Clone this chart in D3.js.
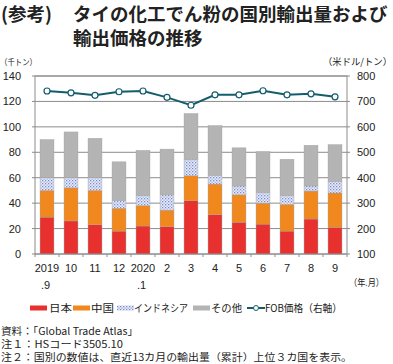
<!DOCTYPE html>
<html>
<head>
<meta charset="utf-8">
<script src="https://cdn.jsdelivr.net/npm/d3@7"></script>
<style>
  body { margin: 0; background: #fff; }
  svg { display: block; font-family: "Noto Sans CJK JP", "Noto Sans", sans-serif; }
  .num { font-family: "Liberation Sans", Arial, sans-serif; }
</style>
</head>
<body>
<div id="chart"></div>
<script>
const width = 393
const height = 364

/* data */
const months = ["2019\n.9", "10", "11", "12", "2020\n.1", "2", "3", "4", "5", "6", "7", "8", "9"]
const japan = [29, 26, 23, 18, 22, 21.5, 42, 31, 25, 23.5, 18, 27.5, 21]
const china = [21, 26, 27, 18, 16, 13, 19.5, 24, 21.5, 16.5, 21, 22, 27]
const indonesia = [10, 8, 10, 6, 8, 12, 13, 7, 7, 8.5, 7, 4, 9]
const others = [30, 36, 31, 30.5, 35.5, 36, 36, 39, 30, 32, 28.5, 32, 29]
const fob = [741, 734, 724, 738, 741, 716, 685, 726, 726, 742, 726, 730, 718]

const seriesKeys = ["japan", "china", "indonesia", "others"]
const seriesNames = ["日本", "中国", "インドネシア", "その他"]
const leftTicks = [0, 20, 40, 60, 80, 100, 120, 140]
const rightTicks = [100, 200, 300, 400, 500, 600, 700, 800]

const rows = months.map((m, i) => ({
  month: m, japan: japan[i], china: china[i], indonesia: indonesia[i], others: others[i], fob: fob[i]
}))

const margin = { top: 76, right: 46, bottom: 110, left: 35 }
const x0 = margin.left, x1 = width - margin.right
const y0 = height - margin.bottom, y1 = margin.top

const x = d3.scaleBand().domain(months).range([x0, x1]).paddingInner(0.42).paddingOuter(0.21)
const yL = d3.scaleLinear().domain([0, 140]).range([y0, y1])
const yR = d3.scaleLinear().domain([100, 800]).range([y0, y1])

const lineColor = "#135d6c"
const colors = { japan: "#e8302e", china: "#f1881d", indonesia: "url(#dots)", others: "#b4b4b4" }

const svg = d3.select("#chart").append("svg")
  .attr("width", width).attr("height", height)

/* dotted pattern for indonesia */
const defs = svg.append("defs")
const pat = defs.append("pattern")
  .attr("id", "dots").attr("patternUnits", "userSpaceOnUse")
  .attr("width", 3).attr("height", 3)
pat.append("rect").attr("width", 3).attr("height", 3).attr("fill", "#e9edf9")
pat.append("rect").attr("x", 0).attr("y", 0).attr("width", 1.3).attr("height", 1.3).attr("fill", "#7a8bcc")
pat.append("rect").attr("x", 1.5).attr("y", 1.5).attr("width", 1.3).attr("height", 1.3).attr("fill", "#9dabdc")

/* title */
svg.append("text").attr("x", 1).attr("y", 21)
  .attr("font-size", 18.5).attr("font-weight", "bold").attr("fill", "#222")
  .text("(参考)")
svg.append("text").attr("x", 73).attr("y", 21)
  .attr("font-size", 18.5).attr("font-weight", "bold").attr("fill", "#222")
  .text("タイの化工でん粉の国別輸出量および")
svg.append("text").attr("x", 73).attr("y", 45)
  .attr("font-size", 18.5).attr("font-weight", "bold").attr("fill", "#222")
  .text("輸出価格の推移")

/* units */
svg.append("text").attr("x", 0).attr("y", 65).attr("font-size", 8.5).attr("fill", "#222")
  .attr("textLength", 37).attr("lengthAdjust", "spacingAndGlyphs").text("（千トン）")
svg.append("text").attr("x", 323).attr("y", 65)
  .attr("font-size", 9.5).attr("fill", "#222")
  .attr("textLength", 69).attr("lengthAdjust", "spacingAndGlyphs").text("（米ドル/トン）")

/* gridlines */
svg.append("g").selectAll("line").data(leftTicks).join("line")
  .attr("x1", x0).attr("x2", x1)
  .attr("y1", d => yL(d)).attr("y2", d => yL(d))
  .attr("stroke", "#8c8c8c").attr("stroke-width", 1)

/* bars */
const stack = d3.stack().keys(seriesKeys)(rows)
svg.append("g").selectAll("g").data(stack).join("g")
  .attr("fill", d => colors[d.key])
  .selectAll("rect").data(d => d).join("rect")
  .attr("x", d => x(d.data.month))
  .attr("width", x.bandwidth())
  .attr("y", d => yL(d[1]))
  .attr("height", d => yL(d[0]) - yL(d[1]))
  .attr("stroke", "#a0a0a0").attr("stroke-width", 0.4)

/* plot frame */
svg.append("rect").attr("x", x0).attr("y", y1).attr("width", x1 - x0).attr("height", y0 - y1)
  .attr("fill", "none").attr("stroke", "#8c8c8c").attr("stroke-width", 1)

/* axis tick marks */
svg.append("g").selectAll("line").data(leftTicks).join("line")
  .attr("x1", x0 - 3).attr("x2", x0)
  .attr("y1", d => yL(d)).attr("y2", d => yL(d))
  .attr("stroke", "#8c8c8c")
svg.append("g").selectAll("line").data(rightTicks).join("line")
  .attr("x1", x1).attr("x2", x1 + 3)
  .attr("y1", d => yR(d)).attr("y2", d => yR(d))
  .attr("stroke", "#8c8c8c")

/* left axis */
svg.append("g").attr("class", "num").selectAll("text").data(leftTicks).join("text")
  .attr("x", 21).attr("y", d => yL(d) + 4)
  .attr("text-anchor", "end").attr("font-size", 11).attr("fill", "#222")
  .text(d => d)

/* right axis */
svg.append("g").attr("class", "num").selectAll("text").data(rightTicks).join("text")
  .attr("x", 357).attr("y", d => yR(d) + 4)
  .attr("font-size", 11).attr("fill", "#222")
  .text(d => d)

/* x ticks at band boundaries */
const bounds = d3.range(months.length + 1).map(i => x0 + i * (x1 - x0) / months.length)
svg.append("g").selectAll("line").data(bounds).join("line")
  .attr("x1", d => d).attr("x2", d => d)
  .attr("y1", y0).attr("y2", y0 + 3)
  .attr("stroke", "#8c8c8c")

const xl = svg.append("g").attr("class", "num").selectAll("text").data(months).join("text")
  .attr("text-anchor", "middle").attr("font-size", 11).attr("fill", "#222")
xl.each(function(d) {
  const parts = d.split("\n")
  const cx = x(d) + x.bandwidth() / 2
  parts.forEach((p, j) => {
    d3.select(this).append("tspan")
      .attr("x", j ? cx - 1.5 : cx).attr("y", y0 + 17.5 + j * 17).text(p)
  })
})
svg.append("text").attr("x", 349).attr("y", y0 + 32)
  .attr("font-size", 9.5).attr("fill", "#222")
  .attr("textLength", 35).attr("lengthAdjust", "spacingAndGlyphs").text("（年.月）")

/* FOB line */
const line = d3.line()
  .x((d, i) => x(months[i]) + x.bandwidth() / 2)
  .y(d => yR(d))
svg.append("path").datum(fob)
  .attr("d", line).attr("fill", "none")
  .attr("stroke", lineColor).attr("stroke-width", 2)
svg.append("g").selectAll("circle").data(fob).join("circle")
  .attr("cx", (d, i) => x(months[i]) + x.bandwidth() / 2)
  .attr("cy", d => yR(d))
  .attr("r", 3).attr("fill", "#fff")
  .attr("stroke", lineColor).attr("stroke-width", 1.2)

/* legend */
const leg = svg.append("g").attr("font-size", 10.5).attr("fill", "#222")
const legItems = [
  { name: seriesNames[0], fill: colors.japan, x: 30, tx: 49, w: 23 },
  { name: seriesNames[1], fill: colors.china, x: 73, tx: 91, w: 23 },
  { name: seriesNames[2], fill: colors.indonesia, x: 117, tx: 134, w: 54 },
  { name: seriesNames[3], fill: colors.others, x: 193, tx: 211, w: 31 }
]
const ly = 308
legItems.forEach(d => {
  leg.append("rect").attr("x", d.x).attr("y", ly - 2.5).attr("width", 17).attr("height", 5)
    .attr("fill", d.fill)
  leg.append("text").attr("x", d.tx).attr("y", ly + 4)
    .attr("textLength", d.w).attr("lengthAdjust", "spacingAndGlyphs").text(d.name)
})
leg.append("line").attr("x1", 247).attr("x2", 265).attr("y1", ly).attr("y2", ly)
  .attr("stroke", lineColor).attr("stroke-width", 2)
leg.append("circle").attr("cx", 256).attr("cy", ly).attr("r", 2.5)
  .attr("fill", "#fff").attr("stroke", lineColor).attr("stroke-width", 1)
leg.append("text").attr("x", 265).attr("y", ly + 4)
  .attr("textLength", 77).attr("lengthAdjust", "spacingAndGlyphs").text("FOB価格（右軸）")

/* notes */
const notes = [
  "資料：「Global Trade Atlas」",
  "注１：HSコード3505.10",
  "注２：国別の数値は、直近13カ月の輸出量（累計）上位３カ国を表示。"
]
svg.append("g").selectAll("text").data(notes).join("text")
  .attr("x", 1).attr("y", (d, i) => 335 + i * 13)
  .attr("font-size", 10).attr("fill", "#222")
  .attr("textLength", (d, i) => [137, 122, 351][i]).attr("lengthAdjust", "spacingAndGlyphs")
  .text(d => d)
</script>
</body>
</html>
